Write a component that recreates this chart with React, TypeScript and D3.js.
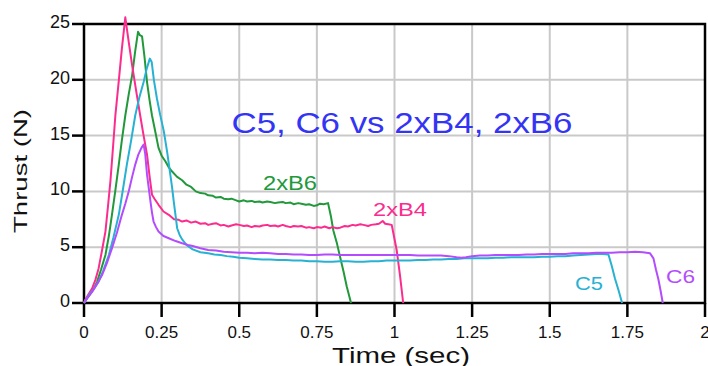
import * as d3 from 'd3';

type Pt = [number, number];

const xTicks = [0, 0.25, 0.5, 0.75, 1, 1.25, 1.5, 1.75, 2];
const xTickLabels = ['0', '0.25', '0.5', '0.75', '1', '1.25', '1.5', '1.75', '2'];
const yTicks = [0, 5, 10, 15, 20, 25];

// 2xB4 (pink)
const b4: Pt[] = [
  [0, 0], [0.004, 0.3], [0.015, 0.8], [0.026, 1.3], [0.037, 2.1], [0.047, 3.1], [0.058, 4.7], [0.069, 6.4],
  [0.077, 8.6], [0.085, 10.9], [0.093, 13.8], [0.101, 16.8], [0.112, 19.9], [0.122, 22.8], [0.133, 25.6],
  [0.144, 23.4], [0.155, 21.3], [0.168, 19.0], [0.181, 16.8], [0.192, 15.0], [0.203, 13.3], [0.211, 11.4],
  [0.219, 9.7], [0.228, 9.3], [0.24, 8.8], [0.256, 8.2], [0.273, 7.9], [0.29, 7.5], [0.305, 7.45], [0.316, 7.3],
  [0.33, 7.4], [0.345, 7.2], [0.36, 7.3], [0.375, 7.1], [0.39, 7.15], [0.4, 7.0], [0.415, 7.1], [0.425, 7.15],
  [0.44, 6.95], [0.45, 7.0], [0.465, 6.85], [0.475, 6.95], [0.49, 7.05], [0.5, 7.0], [0.515, 6.9], [0.525, 6.95],
  [0.54, 6.8], [0.55, 6.9], [0.565, 6.85], [0.575, 6.95], [0.59, 7.0], [0.6, 6.9], [0.615, 6.95], [0.625, 6.85],
  [0.64, 7.0], [0.65, 6.9], [0.665, 6.8], [0.675, 6.9], [0.69, 6.85], [0.7, 6.9], [0.715, 6.75], [0.725, 6.8],
  [0.74, 6.7], [0.75, 6.8], [0.765, 6.75], [0.775, 6.85], [0.79, 6.7], [0.8, 6.8], [0.815, 6.7], [0.825, 6.75],
  [0.84, 6.9], [0.85, 6.85], [0.865, 7.0], [0.875, 6.95], [0.89, 7.05], [0.9, 7.0], [0.915, 6.9], [0.925, 7.0],
  [0.94, 7.05], [0.95, 7.1], [0.962, 7.35], [0.97, 7.1], [0.98, 7.05], [0.991, 7.0], [1.007, 4.75],
  [1.018, 2.4], [1.028, 0],
];

// 2xB6 (green)
const b6: Pt[] = [
  [0, 0], [0.01, 0.4], [0.02, 0.8], [0.032, 1.3], [0.042, 1.9], [0.055, 3.0], [0.069, 4.3], [0.08, 6.0],
  [0.09, 7.9], [0.101, 10.1], [0.112, 12.4], [0.122, 14.6], [0.133, 16.8], [0.144, 18.7], [0.155, 20.4],
  [0.165, 22.6], [0.174, 24.3], [0.18, 24.0], [0.187, 23.9], [0.195, 22.0], [0.203, 19.8], [0.211, 18.2],
  [0.219, 16.8], [0.23, 15.3], [0.24, 13.9], [0.25, 13.2], [0.262, 12.7], [0.272, 12.2], [0.283, 11.8],
  [0.3, 11.3], [0.316, 11.0], [0.33, 10.6], [0.345, 10.4], [0.36, 10.0], [0.375, 9.85], [0.39, 9.8],
  [0.4, 9.65], [0.415, 9.6], [0.425, 9.45], [0.44, 9.5], [0.45, 9.35], [0.465, 9.3], [0.475, 9.35], [0.49, 9.2],
  [0.5, 9.1], [0.515, 9.2], [0.525, 9.1], [0.54, 9.15], [0.55, 9.05], [0.565, 9.1], [0.575, 9.0], [0.59, 9.1],
  [0.6, 9.05], [0.615, 8.95], [0.625, 9.0], [0.64, 9.05], [0.65, 8.95], [0.665, 9.0], [0.675, 8.85], [0.69, 8.95],
  [0.7, 8.9], [0.715, 8.8], [0.725, 8.85], [0.74, 8.7], [0.75, 8.75], [0.76, 8.9], [0.772, 8.85], [0.786, 8.95],
  [0.795, 7.8], [0.803, 6.5], [0.815, 5.3], [0.825, 4.1], [0.836, 2.8], [0.846, 1.5], [0.86, 0],
];

// C5 (cyan)
const c5: Pt[] = [
  [0, 0], [0.015, 0.7], [0.03, 1.2], [0.047, 1.9], [0.062, 2.9], [0.08, 4.3], [0.095, 5.9], [0.112, 7.9],
  [0.125, 10.1], [0.138, 12.4], [0.152, 14.6], [0.165, 16.8], [0.178, 18.4], [0.192, 19.8], [0.202, 21.0],
  [0.212, 21.9], [0.218, 21.6], [0.225, 20.0], [0.235, 18.3], [0.245, 16.9], [0.257, 15.4], [0.268, 13.5],
  [0.278, 11.5], [0.284, 10.3], [0.289, 9.1], [0.295, 7.8], [0.3, 6.7], [0.308, 6.1], [0.316, 5.7],
  [0.33, 5.2], [0.35, 4.8], [0.375, 4.55], [0.4, 4.45], [0.42, 4.35], [0.44, 4.3], [0.46, 4.2], [0.48, 4.15],
  [0.5, 4.05], [0.525, 4.0], [0.55, 3.95], [0.575, 3.9], [0.6, 3.9], [0.625, 3.85], [0.65, 3.85], [0.675, 3.8],
  [0.7, 3.8], [0.725, 3.75], [0.75, 3.75], [0.775, 3.7], [0.8, 3.7], [0.825, 3.75], [0.85, 3.75], [0.875, 3.7],
  [0.9, 3.7], [0.925, 3.75], [0.95, 3.75], [0.975, 3.8], [1.0, 3.8], [1.025, 3.8], [1.05, 3.8], [1.075, 3.85],
  [1.1, 3.85], [1.125, 3.9], [1.15, 3.9], [1.175, 3.95], [1.2, 3.95], [1.225, 4.0], [1.25, 4.0], [1.275, 4.0],
  [1.3, 4.0], [1.325, 4.05], [1.35, 4.05], [1.375, 4.1], [1.4, 4.1], [1.425, 4.1], [1.45, 4.1], [1.475, 4.15],
  [1.5, 4.15], [1.525, 4.2], [1.55, 4.2], [1.575, 4.25], [1.6, 4.3], [1.625, 4.35], [1.65, 4.4], [1.67, 4.4],
  [1.689, 4.35], [1.7, 3.3], [1.71, 2.2], [1.722, 1.1], [1.733, 0],
];

// C6 (purple)
const c6: Pt[] = [
  [0, 0], [0.012, 0.5], [0.026, 1.0], [0.042, 1.7], [0.058, 2.5], [0.074, 3.6], [0.09, 4.9], [0.106, 6.3],
  [0.122, 7.9], [0.133, 8.9], [0.144, 10.0], [0.155, 11.3], [0.165, 12.4], [0.175, 13.3], [0.185, 13.9],
  [0.192, 14.2], [0.197, 13.4], [0.203, 11.5], [0.209, 10.2], [0.214, 9.1], [0.219, 8.1], [0.224, 7.3],
  [0.232, 6.8], [0.24, 6.4], [0.256, 6.0], [0.273, 5.8], [0.295, 5.55], [0.316, 5.35], [0.335, 5.2],
  [0.35, 5.1], [0.375, 4.9], [0.4, 4.75], [0.425, 4.7], [0.45, 4.6], [0.475, 4.55], [0.5, 4.5], [0.525, 4.5],
  [0.55, 4.45], [0.575, 4.5], [0.6, 4.45], [0.625, 4.4], [0.65, 4.4], [0.675, 4.35], [0.7, 4.35], [0.725, 4.3],
  [0.75, 4.3], [0.775, 4.35], [0.8, 4.35], [0.825, 4.3], [0.85, 4.3], [0.875, 4.3], [0.9, 4.3], [0.925, 4.3],
  [0.95, 4.3], [0.975, 4.3], [1.0, 4.3], [1.025, 4.3], [1.05, 4.3], [1.075, 4.25], [1.1, 4.25], [1.125, 4.25],
  [1.15, 4.25], [1.175, 4.2], [1.2, 4.1], [1.215, 4.05], [1.23, 4.1], [1.25, 4.2], [1.275, 4.25], [1.3, 4.25],
  [1.325, 4.3], [1.35, 4.3], [1.375, 4.3], [1.4, 4.3], [1.425, 4.35], [1.45, 4.35], [1.475, 4.4], [1.5, 4.4],
  [1.525, 4.4], [1.55, 4.4], [1.575, 4.45], [1.6, 4.45], [1.625, 4.45], [1.65, 4.5], [1.675, 4.5], [1.7, 4.5],
  [1.725, 4.55], [1.75, 4.55], [1.775, 4.6], [1.8, 4.55], [1.823, 4.45], [1.834, 4.0], [1.842, 3.0],
  [1.85, 2.1], [1.857, 1.1], [1.864, 0],
];

const series = [
  { name: '2xB6', data: b6, color: '#21993b' },
  { name: '2xB4', data: b4, color: '#fb2c8d' },
  { name: 'C5', data: c5, color: '#27b1d2' },
  { name: 'C6', data: c6, color: '#b34cfd' },
];

const W = 708;
const H = 366;
const font = '"Liberation Sans", Arial, Helvetica, sans-serif';

export default function App() {
  const x = d3.scaleLinear().domain([0, 2]).range([84, 705]);
  const y = d3.scaleLinear().domain([0, 25]).range([303, 24]);
  const line = d3.line<Pt>().x((d) => x(d[0])).y((d) => y(d[1]));

  return (
    <svg width={W} height={H} style={{ position: 'absolute', left: 0, top: 0, background: '#fff' }} fontFamily={font}>
      {/* Gridlines */}
      {xTicks.slice(1, -1).map((t) => (
        <line key={'gx' + t} x1={x(t)} x2={x(t)} y1={y(25)} y2={y(0)} stroke="#c9c9c9" strokeWidth={2} />
      ))}
      {yTicks.slice(1, -1).map((t) => (
        <line key={'gy' + t} x1={x(0)} x2={x(2)} y1={y(t)} y2={y(t)} stroke="#c9c9c9" strokeWidth={2} />
      ))}

      {/* Frame */}
      <rect x={x(0)} y={y(25)} width={x(2) - x(0)} height={y(0) - y(25)} fill="none" stroke="#000" strokeWidth={2.5} />

      {/* X axis ticks */}
      {xTicks.map((t, i) => (
        <g key={'xt' + t}>
          <line x1={x(t)} x2={x(t)} y1={y(0)} y2={y(0) + 14} stroke="#000" strokeWidth={2.5} />
          <text x={x(t)} y={338} textAnchor="middle" fontSize={17} fill="#111">
            {xTickLabels[i]}
          </text>
        </g>
      ))}

      {/* Y axis ticks */}
      {yTicks.map((t) => (
        <g key={'yt' + t}>
          <line x1={x(0) - 12} x2={x(0)} y1={y(t)} y2={y(t)} stroke="#000" strokeWidth={2.5} />
          <text x={70} y={y(t) + 4} textAnchor="end" fontSize={18} fill="#111">
            {t}
          </text>
        </g>
      ))}

      {/* Axis titles */}
      <text x={401} y={363} textAnchor="middle" fontSize={22} fill="#111" textLength={138} lengthAdjust="spacingAndGlyphs">
        Time (sec)
      </text>
      <text
        transform="translate(27,171) rotate(-90)"
        textAnchor="middle"
        fontSize={19}
        fill="#111"
        textLength={124}
        lengthAdjust="spacingAndGlyphs"
      >
        Thrust (N)
      </text>

      {/* Title */}
      <text x={402} y={133} textAnchor="middle" fontSize={29} fill="#3434f4" textLength={341} lengthAdjust="spacingAndGlyphs">
        C5, C6 vs 2xB4, 2xB6
      </text>

      {/* Curves */}
      {series.map((s) => (
        <path key={s.name} d={line(s.data) || ''} fill="none" stroke={s.color} strokeWidth={2} strokeLinejoin="round" />
      ))}

      {/* Series labels */}
      <text x={263} y={190} fontSize={20} fill="#21993b" textLength={54} lengthAdjust="spacingAndGlyphs">2xB6</text>
      <text x={373} y={216} fontSize={19} fill="#fb2c8d" textLength={54} lengthAdjust="spacingAndGlyphs">2xB4</text>
      <text x={575} y={290} fontSize={18} fill="#27b1d2" textLength={28} lengthAdjust="spacingAndGlyphs">C5</text>
      <text x={666} y={283} fontSize={18} fill="#b34cfd" textLength={29} lengthAdjust="spacingAndGlyphs">C6</text>
    </svg>
  );
}
